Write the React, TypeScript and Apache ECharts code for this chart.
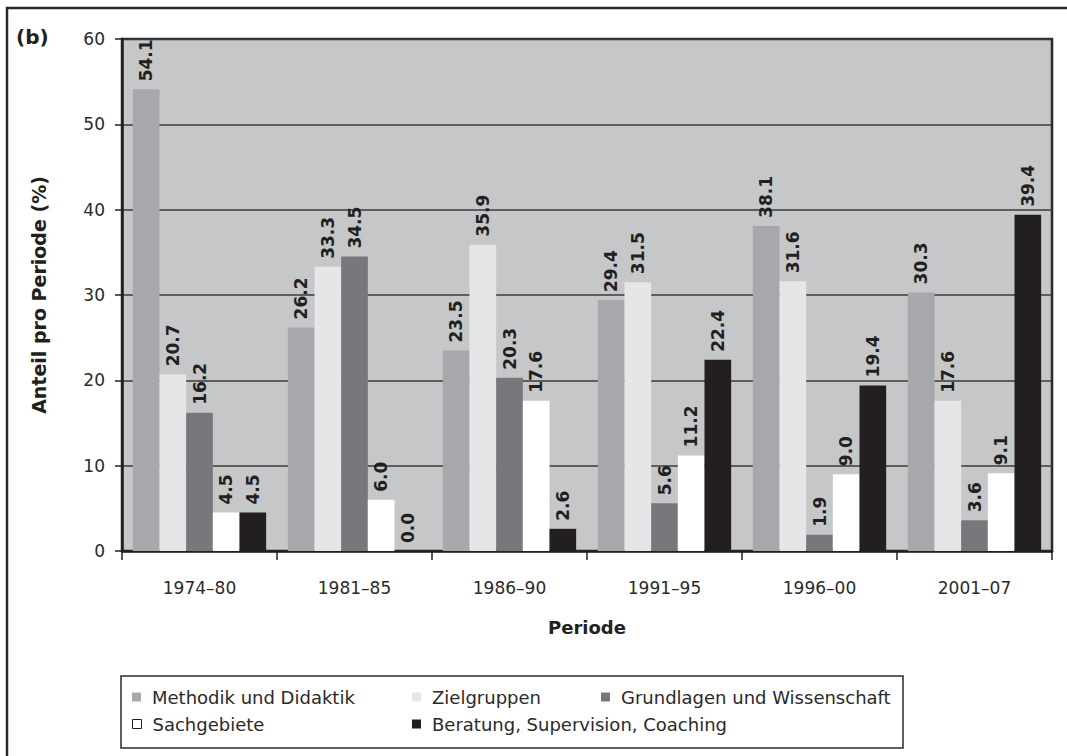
import React, { useEffect, useRef } from "react";
import * as echarts from "echarts";

const categories = ["1974–80", "1981–85", "1986–90", "1991–95", "1996–00", "2001–07"];
const seriesNames = [
  "Methodik und Didaktik",
  "Zielgruppen",
  "Grundlagen und Wissenschaft",
  "Sachgebiete",
  "Beratung, Supervision, Coaching",
];
const methodik = [54.1, 26.2, 23.5, 29.4, 38.1, 30.3];
const zielgruppen = [20.7, 33.3, 35.9, 31.5, 31.6, 17.6];
const grundlagen = [16.2, 34.5, 20.3, 5.6, 1.9, 3.6];
const sachgebiete = [4.5, 6.0, 17.6, 11.2, 9.0, 9.1];
const beratung = [4.5, 0.0, 2.6, 22.4, 19.4, 39.4];
const seriesValues = [methodik, zielgruppen, grundlagen, sachgebiete, beratung];
const colors = ["#a7a8ab", "#e5e6e8", "#77787b", "#ffffff", "#231f20"];

const FONT = "DejaVu Sans";
const DARK = "#231f20";

export default function App() {
  const ref = useRef<HTMLDivElement>(null);
  useEffect(() => {
    if (!ref.current) return;
    const chart = echarts.init(ref.current, null, { renderer: "svg" });

    const legendPos = [
      { left: 132, top: 688 },
      { left: 412, top: 688 },
      { left: 601, top: 688 },
      { left: 132, top: 715 },
      { left: 412, top: 715 },
    ];

    const option: any = {
      animation: false,
      backgroundColor: "#ffffff",
      textStyle: { fontFamily: FONT },
      grid: {
        left: 122,
        right: 15,
        top: 39,
        bottom: 205,
        show: true,
        backgroundColor: "#c6c7c9",
        borderColor: "#2a2a2a",
        borderWidth: 2.5,
        containLabel: false,
      },
      legend: seriesNames.map((name, i) => ({
        data: [
          i === 3
            ? { name, itemStyle: { color: "#ffffff", borderColor: DARK, borderWidth: 1 } }
            : { name },
        ],
        left: legendPos[i].left,
        top: legendPos[i].top,
        orient: "horizontal",
        padding: 0,
        icon: "rect",
        itemWidth: 9,
        itemHeight: 9,
        selectedMode: false,
        textStyle: {
          fontFamily: FONT,
          fontSize: 18,
          color: "#2a2a2a",
          padding: [0, 0, 0, 6],
        },
      })),
      xAxis: {
        type: "category",
        data: categories,
        name: "Periode",
        nameLocation: "middle",
        nameGap: 67,
        nameTextStyle: { fontFamily: FONT, fontSize: 18, fontWeight: "bold", color: DARK },
        axisLine: { show: true, lineStyle: { color: DARK, width: 2.5 } },
        axisTick: { show: true, length: 9, lineStyle: { color: DARK, width: 1.5 } },
        axisLabel: { fontFamily: FONT, fontSize: 17, color: "#2a2a2a", margin: 28 },
        splitLine: { show: false },
      },
      yAxis: {
        type: "value",
        min: 0,
        max: 60,
        interval: 10,
        name: "Anteil pro Periode (%)",
        nameLocation: "middle",
        nameGap: 74,
        nameRotate: 90,
        nameTextStyle: { fontFamily: FONT, fontSize: 19, fontWeight: "bold", color: DARK },
        axisLine: { show: true, lineStyle: { color: DARK, width: 2.5 } },
        axisTick: { show: true, length: 7, lineStyle: { color: DARK, width: 1.5 } },
        axisLabel: { fontFamily: FONT, fontSize: 17, color: "#2a2a2a", margin: 17 },
        splitLine: { show: true, lineStyle: { color: "#3a3a3a", width: 1.5 } },
      },
      series: seriesNames.map((name, i) => ({
        name,
        type: "bar",
        data: seriesValues[i],
        barGap: "0%",
        barCategoryGap: "14%",
        itemStyle: { color: colors[i] },
        label: {
          show: true,
          position: "top",
          rotate: 90,
          align: "left",
          verticalAlign: "middle",
          distance: 8,
          fontFamily: FONT,
          fontSize: 17,
          fontWeight: "bold",
          color: DARK,
          formatter: (p: any) => Number(p.value).toFixed(1),
        },
      })),
      graphic: [
        {
          type: "rect",
          shape: { x: 7, y: 8, width: 1100, height: 800 },
          style: { fill: "none", stroke: "#2a2a2a", lineWidth: 2.5 },
          silent: true,
        },
        {
          type: "text",
          left: 16,
          top: 27,
          style: {
            text: "(b)",
            fontFamily: FONT,
            fontSize: 20,
            fontWeight: "bold",
            fill: DARK,
          },
        },
        {
          type: "rect",
          shape: { x: 121, y: 676, width: 782, height: 72 },
          style: { fill: "none", stroke: "#2a2a2a", lineWidth: 1.5 },
          silent: true,
          z: -1,
        },
      ],
    };
    chart.setOption(option);
    return () => chart.dispose();
  }, []);
  return (
    <div
      ref={ref}
      style={{ position: "fixed", left: 0, top: 0, width: 1067, height: 756 }}
    />
  );
}
